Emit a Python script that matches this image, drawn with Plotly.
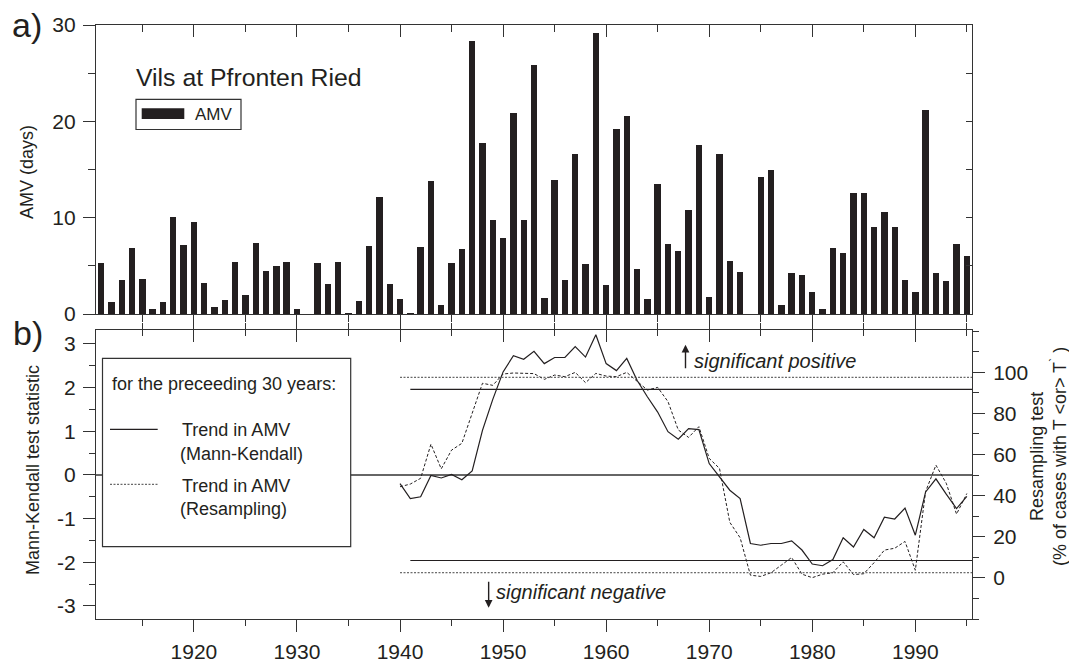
import plotly.graph_objects as go

# ---------------- data ----------------
years_amv = list(range(1911, 1996))
amv_days = [5.3, 1.2, 3.5, 6.9, 3.6, 0.5, 1.2, 10.1, 7.2, 9.5,
            3.2, 0.7, 1.5, 5.4, 2.0, 7.4, 4.5, 5.0, 5.4, 0.5,
            0.0, 5.3, 3.1, 5.4, 0.1, 1.3, 7.1, 12.1, 3.1, 1.6,
            0.1, 7.0, 13.8, 0.9, 5.3, 6.7, 28.3, 17.8, 9.8, 7.9,
            20.9, 9.8, 25.8, 1.7, 13.9, 3.5, 16.6, 5.2, 29.2, 3.0,
            19.2, 20.6, 4.7, 1.6, 13.5, 7.3, 6.5, 10.8, 17.5, 1.8,
            16.6, 5.5, 4.4, 0.0, 14.2, 14.9, 0.9, 4.3, 4.1, 2.3,
            0.5, 6.8, 6.3, 12.6, 12.6, 9.0, 10.6, 9.0, 3.5, 2.3,
            21.2, 4.3, 3.4, 7.3, 6.0]

years_trend = list(range(1940, 1996))
mann_kendall = [-0.20, -0.54, -0.50, -0.01, -0.07, 0.01, -0.11, 0.09, 1.02, 1.73,
                2.36, 2.73, 2.65, 2.83, 2.55, 2.69, 2.69, 2.94, 2.70, 3.21,
                2.55, 2.39, 2.67, 2.17, 1.79, 1.44, 0.99, 0.82, 1.06, 1.04,
                0.26, -0.05, -0.35, -0.54, -1.57, -1.61, -1.57, -1.57, -1.51, -1.72,
                -2.04, -2.08, -1.94, -1.44, -1.65, -1.25, -1.44, -0.97, -1.01, -0.76,
                -1.38, -0.39, -0.09, -0.44, -0.77, -0.49]
resampling_pct = [44.3, 45.6, 48.4, 65.0, 53.0, 62.1, 65.4, 80.0, 94.6, 93.6,
                  99.1, 99.6, 99.4, 99.3, 96.5, 98.6, 97.8, 99.9, 94.9, 99.4,
                  98.1, 97.8, 99.9, 95.4, 91.3, 92.6, 85.7, 71.9, 68.3, 73.5,
                  58.1, 53.2, 27.0, 19.5, 1.3, 0.7, 2.5, 6.2, 9.9, 1.8,
                  0.1, 1.8, 2.5, 7.8, 1.6, 2.0, 7.4, 13.5, 14.4, 17.7,
                  3.7, 42.0, 54.8, 46.0, 31.0, 41.0]

mk_crit = [-1.96, 1.96]          # Mann-Kendall 5% significance
mk_crit_start = 1941
res_crit = [2.5, 97.5]           # resampling 2.5 / 97.5 %
res_crit_start = 1940

x_range = [1910.5, 1995.5]
mk_ticks = [-3, -2, -1, 0, 1, 2, 3]
mk_ticktext = ["-3", "-2", "-1", "0", "1", "2", "3"]
res_ticks = [0, 20, 40, 60, 80, 100]
res_ticktext = ["0", "20", "40", "60", "80", "100"]
year_ticks = [1920, 1930, 1940, 1950, 1960, 1970, 1980, 1990]
year_ticktext = ["1920", "1930", "1940", "1950", "1960", "1970", "1980", "1990"]

# ---------------- layout geometry ----------------
W, H = 1069, 664
ML, MR, MT, MB = 96, 97, 25, 45
PW, PH = W - ML - MR, H - MT - MB
FONT = "Liberation Sans, Arial, Helvetica, sans-serif"
INK = "#231f20"
AX = "#333333"


def fx(px):
    return (px - ML) / PW


def fy(py):
    return (H - MB - py) / PH


top_dom = [fy(314), 1.0]
bot_dom = [0.0, fy(330)]

fig = go.Figure()

# bars
fig.add_trace(go.Bar(x=years_amv, y=amv_days, width=0.62, marker=dict(color=INK, line=dict(width=0)),
                     xaxis="x", yaxis="y", showlegend=False, name="AMV"))

# Mann-Kendall line
fig.add_trace(go.Scatter(x=years_trend, y=mann_kendall, mode="lines",
                         line=dict(color=INK, width=1.2), xaxis="x2", yaxis="y2",
                         showlegend=False, name="Trend in AMV (Mann-Kendall)"))
# Resampling line
fig.add_trace(go.Scatter(x=years_trend, y=resampling_pct, mode="lines",
                         line=dict(color=INK, width=1.0, dash="3px,2px"), xaxis="x2", yaxis="y3",
                         showlegend=False, name="Trend in AMV (Resampling)"))

# empty helper traces so that the tick-only overlay axes get drawn
for xa, ya in (("x3", "y"), ("x", "y4"), ("x4", "y2")):
    fig.add_trace(go.Scatter(x=[None], y=[None], mode="lines", xaxis=xa, yaxis=ya,
                             showlegend=False, hoverinfo="skip"))

# significance lines
for v in mk_crit:
    fig.add_shape(type="line", xref="x2", yref="y2", x0=mk_crit_start, x1=x_range[1], y0=v, y1=v,
                  line=dict(color=INK, width=1.2))
for v in res_crit:
    fig.add_shape(type="line", xref="x2", yref="y3", x0=res_crit_start, x1=x_range[1], y0=v, y1=v,
                  line=dict(color="#444444", width=1.0, dash="2px,1.5px"))

axis_common = dict(showgrid=False, zeroline=False, linecolor=AX, linewidth=1.2,
                   tickcolor=AX, tickwidth=1.2, automargin=False,
                   tickfont=dict(family=FONT, size=21, color=INK))

fig.update_layout(
    width=W, height=H,
    margin=dict(l=ML, r=MR, t=MT, b=MB, pad=0, autoexpand=False),
    paper_bgcolor="white", plot_bgcolor="white",
    font=dict(family=FONT, color=INK),
    bargap=0,
    xaxis=dict(axis_common, domain=[0, 1], anchor="y", range=x_range, tickmode="linear",
               tick0=1920, dtick=10, ticks="outside", ticklen=12, showticklabels=False,
               mirror=True, minor=dict(dtick=5, tick0=1915, ticks="outside", ticklen=7,
                                       tickcolor=AX, tickwidth=1.2)),
    yaxis=dict(axis_common, domain=top_dom, anchor="x", range=[0, 30], tickmode="linear",
               tick0=0, dtick=10, ticks="outside", ticklen=12, mirror=True, ticklabelstandoff=3,
               minor=dict(dtick=5, ticks="outside", ticklen=7, tickcolor=AX, tickwidth=1.2)),
    xaxis3=dict(axis_common, overlaying="x", anchor="y", side="top", range=x_range,
                tickmode="linear", tick0=1920, dtick=10, ticks="inside", ticklen=12,
                showticklabels=False, showline=False,
                minor=dict(dtick=5, tick0=1915, ticks="inside", ticklen=7, tickcolor=AX, tickwidth=1.2)),
    yaxis4=dict(axis_common, overlaying="y", anchor="x", side="right", range=[0, 30],
                tickmode="linear", tick0=0, dtick=5, ticks="inside", ticklen=6,
                showticklabels=False, showline=False),
    xaxis2=dict(axis_common, domain=[0, 1], anchor="y2", range=x_range, tickmode="array",
                tickvals=year_ticks, ticktext=year_ticktext, ticks="outside", ticklen=12,
                mirror="ticks", ticklabelstandoff=2,
                minor=dict(dtick=5, tick0=1915, ticks="outside", ticklen=6, tickcolor=AX, tickwidth=1.2)),
    xaxis4=dict(axis_common, overlaying="x2", anchor="y2", side="top", range=x_range,
                tickmode="linear", tick0=1920, dtick=10, ticks="inside", ticklen=12,
                showticklabels=False, showline=False,
                minor=dict(dtick=5, tick0=1915, ticks="inside", ticklen=6, tickcolor=AX, tickwidth=1.2)),
    yaxis2=dict(axis_common, domain=bot_dom, anchor="x2", range=[-3.3, 3.32], tickmode="array",
                tickvals=mk_ticks, ticktext=mk_ticktext, ticks="outside", ticklen=12,
                mirror=True, zeroline=True, zerolinecolor="#666666", zerolinewidth=1.6,
                ticklabelstandoff=3,
                minor=dict(dtick=0.5, ticks="outside", ticklen=6, tickcolor=AX, tickwidth=1.2)),
    yaxis3=dict(axis_common, overlaying="y2", anchor="x2", side="right", range=[-20.0, 120.5],
                tickmode="array", tickvals=res_ticks, ticktext=res_ticktext, ticks="outside",
                ticklen=12, showline=False, ticklabelstandoff=4,
                minor=dict(dtick=10, tick0=0, ticks="outside", ticklen=6, tickcolor=AX, tickwidth=1.2)),
)

# -------- decorations: titles, panel letters, legends --------
def txt(text, px, py, size, xanchor="left", yanchor="middle", angle=0):
    fig.add_annotation(text=text, x=fx(px), y=fy(py), xref="paper", yref="paper",
                       xanchor=xanchor, yanchor=yanchor, showarrow=False, textangle=angle,
                       font=dict(family=FONT, size=size, color=INK))


txt("a)", 27, 25, 34, xanchor="center")
txt("b)", 28, 333, 34, xanchor="center")
txt("AMV (days)", 27, 172, 18, xanchor="center", angle=-90)
txt("Mann-Kendall test statistic", 33, 470, 18, xanchor="center", angle=-90)
txt("Resampling test<br>(% of cases with T &lt;or&gt; T<sup>`</sup> )", 1048, 457, 18,
    xanchor="center", angle=-90)
txt("Vils at Pfronten Ried", 249, 77, 24.8, xanchor="center")

# top legend box
fig.add_shape(type="rect", xref="paper", yref="paper", x0=fx(136), x1=fx(241), y0=fy(129.5), y1=fy(99.3),
              line=dict(color=AX, width=1.2), fillcolor="white")
fig.add_shape(type="rect", xref="paper", yref="paper", x0=fx(141.7), x1=fx(184.3), y0=fy(119), y1=fy(108.3),
              line=dict(width=0), fillcolor=INK)
txt("AMV", 193, 114.5, 17)

# bottom legend box
fig.add_shape(type="rect", xref="paper", yref="paper", x0=fx(102.5), x1=fx(350.7), y0=fy(546.7), y1=fy(358.3),
              line=dict(color=AX, width=1.2), fillcolor="white", layer="above")
fig.add_shape(type="line", xref="paper", yref="paper", x0=fx(110), x1=fx(157.7), y0=fy(429.3), y1=fy(429.3),
              line=dict(color=INK, width=1.2))
fig.add_shape(type="line", xref="paper", yref="paper", x0=fx(110), x1=fx(157.7), y0=fy(484.3), y1=fy(484.3),
              line=dict(color="#444444", width=1.0, dash="2px,1.5px"))
txt("for the preceeding 30 years:", 110, 384, 18)
txt("Trend in AMV", 180, 430, 18)
txt("(Mann-Kendall)", 178, 453.5, 18)
txt("Trend in AMV", 180, 486, 18)
txt("(Resampling)", 178, 508.5, 18)

# significance arrows and labels
fig.add_annotation(x=1967.7, y=2.98, ax=1967.7, ay=2.25, xref="x2", yref="y2", axref="x2", ayref="y2",
                   text=" ", showarrow=True, arrowhead=2, arrowsize=1.1, arrowwidth=1.4, arrowcolor=INK)
fig.add_annotation(x=1948.6, y=-3.04, ax=1948.6, ay=-2.25, xref="x2", yref="y2", axref="x2", ayref="y2",
                   text=" ", showarrow=True, arrowhead=2, arrowsize=1.1, arrowwidth=1.4, arrowcolor=INK)
txt("<i>significant positive</i>", 692, 361, 20)
txt("<i>significant negative</i>", 494, 592, 20)

fig.write_html("out.html")
